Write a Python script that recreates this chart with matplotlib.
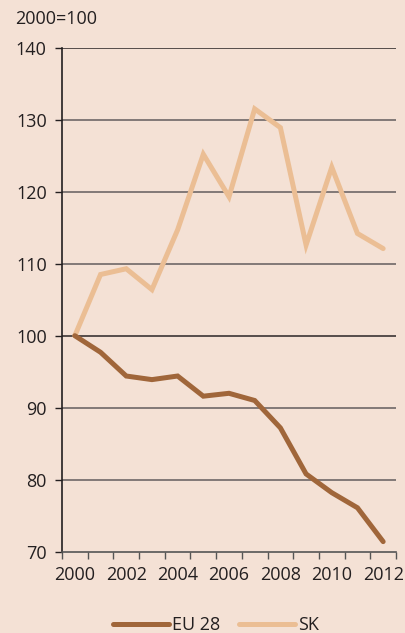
import matplotlib
matplotlib.use("Agg")
import matplotlib.pyplot as plt
from matplotlib.ticker import FixedLocator

years = list(range(2000, 2013))
eu28 = [100, 97.7, 94.4, 93.9, 94.4, 91.6, 92.0, 91.0, 87.2, 80.8, 78.2, 76.1, 71.4]
sk = [100, 108.5, 109.3, 106.4, 114.7, 125.2, 119.3, 131.5, 128.9, 112.6, 123.4, 114.2, 112.1]
y_ticks = [70, 80, 90, 100, 110, 120, 130, 140]
x_labels = [2000, 2002, 2004, 2006, 2008, 2010, 2012]

BG = "#f4e1d5"
EU_COL = "#a0663a"
SK_COL = "#ebbe94"
TXT = "#231f20"

plt.rcParams["font.family"] = ["Open Sans", "DejaVu Sans"]

fig = plt.figure(figsize=(4.06, 6.33), dpi=100, facecolor=BG)
ax = fig.add_axes([62 / 406, 81.3 / 633, 334 / 406, 504 / 633], facecolor=BG)

ax.plot(years, sk, color=SK_COL, lw=3.6, solid_capstyle="round",
        solid_joinstyle="miter", label="SK", zorder=3)
ax.plot(years, eu28, color=EU_COL, lw=3.6, solid_capstyle="round",
        solid_joinstyle="miter", label="EU 28", zorder=4)

ax.set_xlim(1999.5, 2012.5)
ax.set_ylim(70, 140)

# gridlines (100 a bit darker)
for y in y_ticks[1:]:
    c = "#3a3434" if y in (100, 140) else "#6e6767"
    ax.axhline(y, color=c, lw=1.2, zorder=1)

ax.set_yticks(y_ticks)
ax.tick_params(axis="y", direction="out", length=5, width=1, color=TXT,
               labelsize=13, labelcolor=TXT, pad=6)

ax.set_xticks(x_labels)
ax.xaxis.set_minor_locator(FixedLocator([y - 0.5 for y in years] + [2012.5]))
ax.tick_params(axis="x", which="major", length=0, labelsize=13,
               labelcolor=TXT, pad=10)
ax.tick_params(axis="x", which="minor", direction="out", length=5,
               width=1, color="#555")

for side in ["top", "right"]:
    ax.spines[side].set_visible(False)
ax.spines["left"].set_color(TXT)
ax.spines["bottom"].set_color("#555")
ax.spines["left"].set_linewidth(1.2)
ax.spines["bottom"].set_linewidth(1.2)

fig.text(15 / 406, 1 - 19 / 633, "2000=100", fontsize=13, color=TXT,
         va="center", ha="left")

handles, labels = ax.get_legend_handles_labels()
fig.legend(handles[::-1], labels[::-1], loc="center", ncol=2,
           bbox_to_anchor=(216 / 406, 1 - 625 / 633), frameon=False,
           fontsize=13, handlelength=3.1, handletextpad=0.2,
           columnspacing=1.0, labelcolor=TXT)

fig.savefig("out.png", dpi=100, facecolor=BG)
